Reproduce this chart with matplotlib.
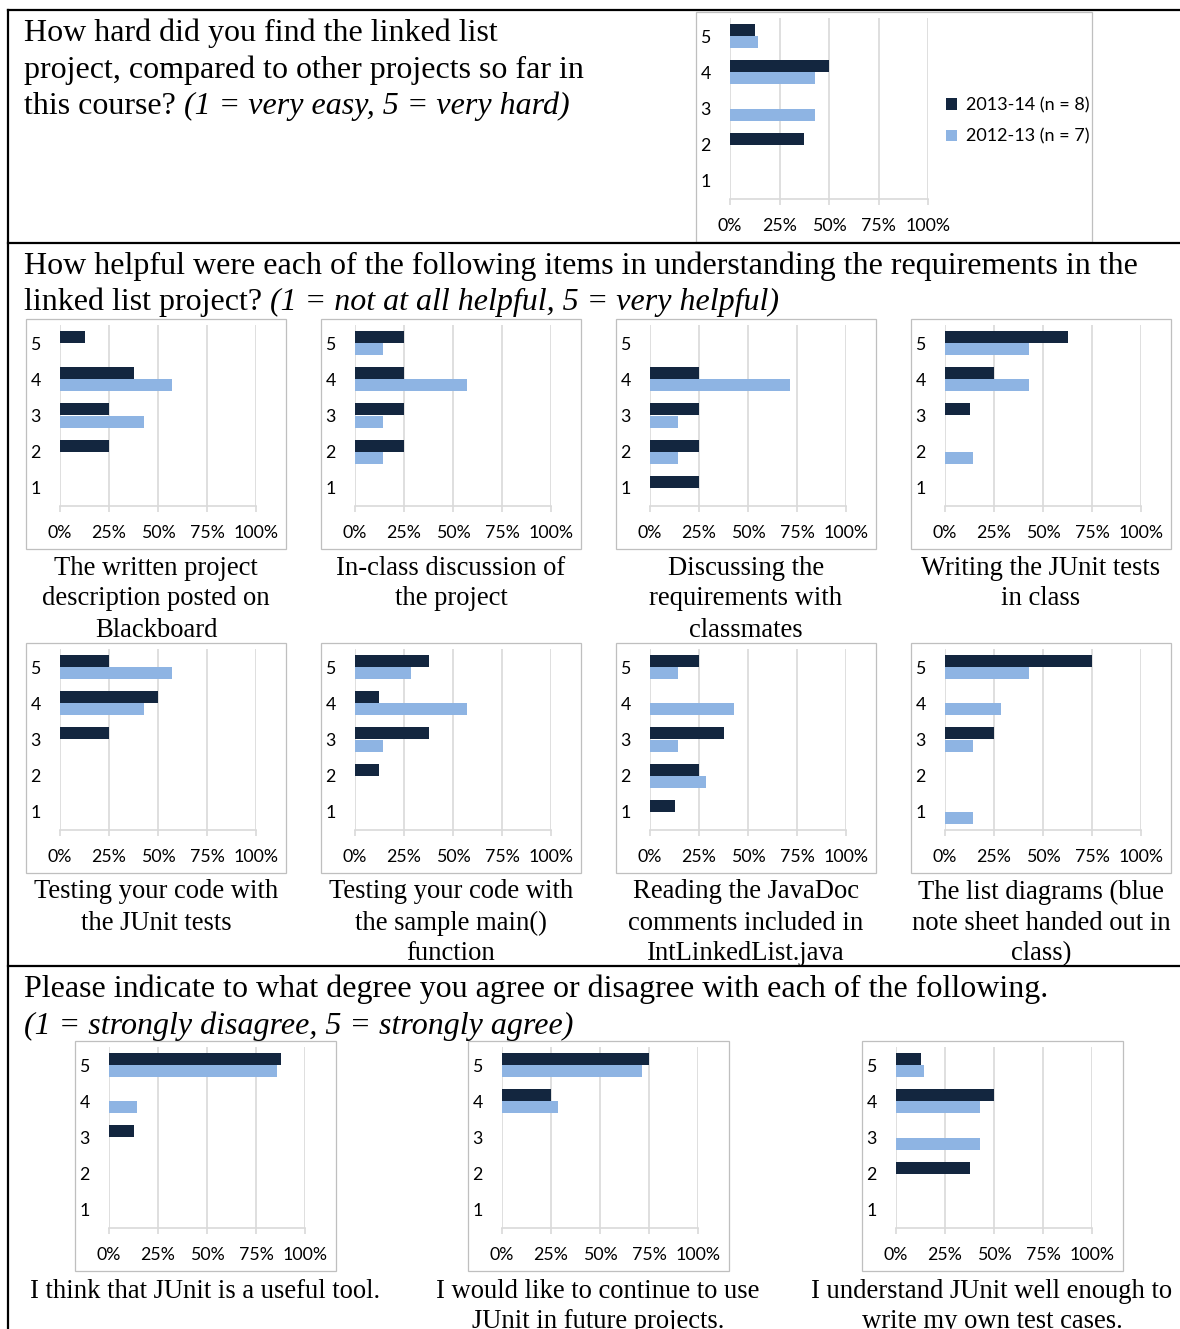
import numpy as np
import matplotlib.pyplot as plt
import matplotlib.patches as mpatches
from matplotlib.lines import Line2D

# survey answers, share of respondents (%) for scores 1..5
scores = np.array([1, 2, 3, 4, 5])
series_names = ["2013-14 (n = 8)", "2012-13 (n = 7)"]

difficulty_1314 = [0, 37.5, 0, 50, 12.5]
difficulty_1213 = [0, 0, 42.9, 42.9, 14.3]

helpful_labels = [
    "The written project\ndescription posted on\nBlackboard",
    "In-class discussion of\nthe project",
    "Discussing the\nrequirements with\nclassmates",
    "Writing the JUnit tests\nin class",
    "Testing your code with\nthe JUnit tests",
    "Testing your code with\nthe sample main()\nfunction",
    "Reading the JavaDoc\ncomments included in\nIntLinkedList.java",
    "The list diagrams (blue\nnote sheet handed out in\nclass)",
]
helpful_1314 = [
    [0, 25, 25, 37.5, 12.5],
    [0, 25, 25, 25, 25],
    [25, 25, 25, 25, 0],
    [0, 0, 12.5, 25, 62.5],
    [0, 0, 25, 50, 25],
    [0, 12.5, 37.5, 12.5, 37.5],
    [12.5, 25, 37.5, 0, 25],
    [0, 0, 25, 0, 75],
]
helpful_1213 = [
    [0, 0, 42.9, 57.1, 0],
    [0, 14.3, 14.3, 57.1, 14.3],
    [0, 14.3, 14.3, 71.4, 0],
    [0, 14.3, 0, 42.9, 42.9],
    [0, 0, 0, 42.9, 57.1],
    [0, 0, 14.3, 57.1, 28.6],
    [0, 28.6, 14.3, 42.9, 14.3],
    [14.3, 0, 14.3, 28.6, 42.9],
]

agree_labels = [
    "I think that JUnit is a useful tool.",
    "I would like to continue to use\nJUnit in future projects.",
    "I understand JUnit well enough to\nwrite my own test cases.",
]
agree_1314 = [
    [0, 0, 12.5, 0, 87.5],
    [0, 0, 0, 25, 75],
    [0, 37.5, 0, 50, 12.5],
]
agree_1213 = [
    [0, 0, 0, 14.3, 85.7],
    [0, 0, 0, 28.6, 71.4],
    [0, 0, 42.9, 42.9, 14.3],
]

pct_ticks = [0, 25, 50, 75, 100]
pct_labels = ["0%", "25%", "50%", "75%", "100%"]

DARK = "#13263f"
LIGHT = "#8eb4e3"
GRID = "#d9d9d9"
SERIF = "Liberation Serif"
SANS = "Lato"

W, H = 1180, 1329
fig = plt.figure(figsize=(W / 100, H / 100), dpi=100)


def fx(x):
    return x / W


def fy(y):
    return 1 - y / H


def put(x, y, s, size, style="normal", ha="left"):
    return fig.text(fx(x), fy(y), s, fontsize=size, family=SERIF,
                    style=style, ha=ha, va="center")


def put_mixed(x, y, plain, italic, size):
    t = put(x, y, plain, size)
    bb = t.get_window_extent(fig.canvas.get_renderer())
    put(bb.x1 + 8, y, italic, size, style="italic")


def put_lines(xc, y0, text, size, step=31):
    for i, line in enumerate(text.split("\n")):
        put(xc, y0 + i * step, line, size, ha="center")


def chart(box_x, box_y, box_w, v1314, v1213, ax_w=196, legend=False):
    fig.patches.append(mpatches.Rectangle(
        (fx(box_x), fy(box_y + 230)), box_w / W, 230 / H,
        transform=fig.transFigure, fill=False, edgecolor="#bfbfbf", lw=0.9))
    left = box_x + 34
    top, bottom = box_y + 6, box_y + 187
    ax = fig.add_axes([fx(left), fy(bottom), ax_w / W, (bottom - top) / H])
    ax.barh(scores + 0.167, v1314, height=0.333, color=DARK, label=series_names[0])
    ax.barh(scores - 0.167, v1213, height=0.333, color=LIGHT, label=series_names[1])
    ax.set_xlim(0, 100)
    ax.set_ylim(0.5, 5.5)
    ax.set_xticks(pct_ticks)
    ax.set_xticklabels(pct_labels, family=SANS)
    ax.set_yticks(scores)
    ax.set_yticklabels([str(s) for s in scores], family=SANS)
    ax.grid(axis="x", color=GRID, lw=1.2)
    ax.set_axisbelow(True)
    for side in ["top", "right", "left"]:
        ax.spines[side].set_visible(False)
    ax.spines["bottom"].set_color(GRID)
    ax.spines["bottom"].set_linewidth(1.2)
    ax.tick_params(axis="x", length=4, color=GRID, width=1.2, pad=9.5, labelsize=12.8)
    ax.tick_params(axis="y", length=0, pad=14, labelsize=12.8)
    ax.patch.set_alpha(0)
    if legend:
        ax.legend(loc="center left", bbox_to_anchor=(fx(930), fy(121)),
                  bbox_transform=fig.transFigure, frameon=False,
                  prop={"family": SANS, "size": 13}, handlelength=0.6,
                  handleheight=0.6, handletextpad=0.5, labelspacing=0.85)
    return ax


# frame lines
for y in [10, 243, 966]:
    fig.add_artist(Line2D([fx(8), fx(1180)], [fy(y), fy(y)], color="black", lw=1.6))
fig.add_artist(Line2D([fx(8), fx(8)], [fy(10), fy(1329)], color="black", lw=1.6))

TS = 23
CS = 19.2

# section 1
put(24, 33, "How hard did you find the linked list", TS)
put(24, 70, "project, compared to other projects so far in", TS)
put_mixed(24, 106, "this course?", "(1 = very easy, 5 = very hard)", TS)
chart(696, 12, 396, difficulty_1314, difficulty_1213, ax_w=198, legend=True)

# section 2
put(24, 266, "How helpful were each of the following items in understanding the requirements in the", TS)
put_mixed(24, 302, "linked list project?", "(1 = not at all helpful, 5 = very helpful)", TS)
box_xs = [26, 321, 616, 911]
row_ys = [319, 643]
cap_ys = [568, 892]
for i in range(8):
    r, c = divmod(i, 4)
    chart(box_xs[c], row_ys[r], 260, helpful_1314[i], helpful_1213[i])
    put_lines(box_xs[c] + 130, cap_ys[r], helpful_labels[i], CS)

# section 3
put(24, 989, "Please indicate to what degree you agree or disagree with each of the following.", TS)
put(24, 1026, "(1 = strongly disagree, 5 = strongly agree)", TS, style="italic")
agree_xs = [75, 468, 862]
for i in range(3):
    chart(agree_xs[i], 1041, 261, agree_1314[i], agree_1213[i])
    put_lines(agree_xs[i] + 130, 1291, agree_labels[i], CS, step=30)

fig.savefig("out.png", dpi=100)
